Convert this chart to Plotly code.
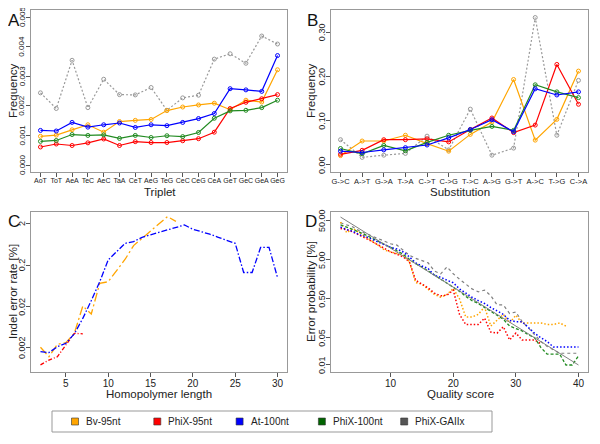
import math
import plotly.graph_objects as go

# Panel A: substitution frequency per triplet
triplets = ["AoT", "ToT", "AeA", "TeC", "AeC", "TaA", "CeT", "AeG",
            "TeG", "CeC", "CeG", "CeA", "GeT", "GeC", "GeA", "GeG"]
a_bv = [0.00097, 0.00101, 0.00119, 0.00136, 0.00111, 0.00147, 0.00151, 0.00154,
        0.00184, 0.00196, 0.00203, 0.00209, 0.00187, 0.00219, 0.00213, 0.00322]
a_phix95 = [0.00061, 0.00071, 0.00066, 0.00075, 0.00088, 0.00066, 0.00079, 0.00076,
            0.00076, 0.00082, 0.00089, 0.00111, 0.00191, 0.00212, 0.00224, 0.00238]
a_at100 = [0.00117, 0.00115, 0.00144, 0.00128, 0.00136, 0.00142, 0.00127, 0.00136,
           0.00133, 0.00144, 0.00157, 0.00174, 0.00258, 0.00254, 0.00249, 0.00370]
a_phix100 = [0.00080, 0.00083, 0.00103, 0.00100, 0.00102, 0.00090, 0.00100, 0.00093,
             0.00099, 0.00096, 0.00110, 0.00158, 0.00183, 0.00185, 0.00194, 0.00219]
a_gaiix = [0.00244, 0.00191, 0.00354, 0.00194, 0.00290, 0.00238, 0.00237, 0.00262,
           0.00185, 0.00227, 0.00236, 0.00358, 0.00376, 0.00344, 0.00436, 0.00409]
a_ticks = [0, 0.001, 0.002, 0.003, 0.004, 0.005]
a_ticktext = ["0.000", "0.001", "0.002", "0.003", "0.004", "0.005"]

# Panel B: substitution type frequency
subs = ["G->C", "A->T", "G->A", "T->A", "C->T", "C->G",
        "T->C", "A->G", "G->T", "A->C", "T->G", "C->A"]
b_bv = [0.021, 0.054, 0.054, 0.067, 0.048, 0.031, 0.069, 0.097, 0.193, 0.056, 0.103, 0.212]
b_phix95 = [0.024, 0.033, 0.057, 0.057, 0.059, 0.052, 0.080, 0.106, 0.073, 0.090, 0.227, 0.137]
b_at100 = [0.031, 0.028, 0.034, 0.039, 0.045, 0.061, 0.080, 0.102, 0.075, 0.172, 0.158, 0.165]
b_phix100 = [0.037, 0.025, 0.044, 0.032, 0.051, 0.067, 0.078, 0.087, 0.078, 0.181, 0.165, 0.152]
b_gaiix = [0.057, 0.017, 0.022, 0.026, 0.065, 0.034, 0.126, 0.022, 0.038, 0.333, 0.067, 0.191]
b_ticks = [0, 0.1, 0.2, 0.3]
b_ticktext = ["0.00", "0.10", "0.20", "0.30"]

# Panel C: indel error rate vs homopolymer length
c_len_at = list(range(2, 31))
c_at100 = [0.00163, 0.00155, 0.00215, 0.0026, 0.0044, 0.0104, 0.028, 0.080, 0.27, 0.43,
           0.68, 0.75, 0.95, 1.09, 1.24, 1.43, 1.63, 1.89, 1.49, 1.31,
           1.13, 0.95, 0.82, 0.68, 0.134, 0.134, 0.54, 0.54, 0.101]
c_len_bv = list(range(2, 19))
c_bv = [0.00208, 0.00123, 0.00245, 0.0027, 0.00453, 0.0207, 0.0133, 0.073, 0.080,
        0.154, 0.28, 0.6, 0.9, 1.35, 2.0, 3.0, 2.3]
c_len_phix = list(range(2, 8))
c_phix95 = [0.00078, 0.00102, 0.00123, 0.00237, 0.00453, 0.0044]
c_ticks = [0.002, 0.02, 0.2, 2]
c_ticktext = ["0.002", "0.02", "0.2", "2"]

# Panel D: error probability vs quality score
q_all = list(range(2, 41))
d_theory_q = [2, 40]
d_theory = [63.1, 0.01]
d_phix100 = [40, 35, 30, 26, 22, 18, 15, 12.5, 10.5, 8.5, 7, 5.2, 4.0, 3.3, 2.6, 2.0, 1.6,
             1.25, 1.0, 0.78, 0.58, 0.45, 0.38, 0.30, 0.24, 0.19, 0.15, 0.10, 0.085, 0.075,
             0.06, 0.05, 0.028, 0.019, 0.019, 0.019, 0.01, 0.01, 0.017]
d_at100 = [35, 30, 27, 22, 20, 17, 14.5, 12.5, 10.5, 9.5, 8, 6, 4.2, 3.5, 3.0, 2.0, 1.8,
           1.5, 1.3, 0.9, 0.7, 0.55, 0.45, 0.38, 0.3, 0.25, 0.2, 0.14, 0.13, 0.13,
           0.09, 0.065, 0.05, 0.04, 0.029, 0.029, 0.029, 0.029, 0.029]
q_phix95 = list(range(2, 35))
d_phix95 = [32, 30, 26, 22, 18, 15, 12, 10, 8, 7, 6, 4.5, 1.5, 1.2, 0.95, 0.7, 0.6,
            0.62, 0.84, 0.2, 0.11, 0.11, 0.11, 0.16, 0.07, 0.066, 0.096, 0.044, 0.066,
            0.044, 0.044, 0.044, 0.035]
q_bv = list(range(2, 39))
d_bv = [47, 25, 32, 25, 20, 15, 12, 9, 8, 7, 6.5, 4.5, 1.3, 1.2, 0.9, 0.65, 0.55,
        0.65, 0.92, 0.5, 0.17, 0.17, 0.2, 0.31, 0.1, 0.14, 0.2, 0.12, 0.19, 0.12,
        0.12, 0.12, 0.12, 0.11, 0.11, 0.12, 0.1]
d_gaiix = [45, 40, 35, 28, 24, 20, 17, 15, 13, 12, 9, 6.6, 5.5, 4.9, 4.2, 2.6, 2.2,
           3.3, 2.2, 1.6, 1.2, 0.9, 0.76, 0.84, 0.6, 0.35, 0.35, 0.21, 0.23, 0.13,
           0.09, 0.06, 0.04, 0.03, 0.025, 0.02, 0.02, 0.02, 0.02]
d_ticks = [0.01, 0.05, 0.5, 5, 50]
d_ticktext = ["0.01", "0.05", "0.50", "5.00", "50.00"]

names = ["Bv-95nt", "PhiX-95nt", "At-100nt", "PhiX-100nt", "PhiX-GAIIx"]
colors = ["#FFA500", "#FF0000", "#0000FF", "#228B22", "#999999"]
legend_colors = ["#FFA500", "#FF0000", "#0000FF", "#006400", "#555555"]

FONT = "Liberation Sans, Arial, sans-serif"
# the page body has an 8px margin, so the figure is placed at (8, 8) in the window
OFF = 8
W, H = 600 - OFF, 444 - OFF


def px(sx):
    return (sx - OFF) / W


def py(sy):
    return 1 - (sy - OFF) / H


def xd(a, b):
    return [px(a), px(b)]


def yd(top, bottom):
    return [py(bottom), py(top)]


fig = go.Figure()

# Panel A
xa = list(range(1, 17))
for ys, c, dash in [(a_gaiix, colors[4], "2px,2px"), (a_bv, colors[0], "solid"),
                    (a_phix95, colors[1], "solid"), (a_at100, colors[2], "solid"),
                    (a_phix100, colors[3], "solid")]:
    fig.add_trace(go.Scatter(x=xa, y=ys, mode="lines+markers", showlegend=False,
                             line=dict(color=c, width=1.2, dash=dash),
                             marker=dict(symbol="circle-open", size=4, color=c, line=dict(width=1)),
                             xaxis="x", yaxis="y"))

# Panel B
xb = list(range(1, 13))
for ys, c, dash in [(b_gaiix, colors[4], "2px,2px"), (b_bv, colors[0], "solid"),
                    (b_phix95, colors[1], "solid"), (b_phix100, colors[3], "solid"),
                    (b_at100, colors[2], "solid")]:
    fig.add_trace(go.Scatter(x=xb, y=ys, mode="lines+markers", showlegend=False,
                             line=dict(color=c, width=1.2, dash=dash),
                             marker=dict(symbol="circle-open", size=4, color=c, line=dict(width=1)),
                             xaxis="x2", yaxis="y2"))

# Panel C
for xs, ys, c, dash in [(c_len_phix, c_phix95, colors[1], "4px,2px,1px,2px"),
                        (c_len_bv, c_bv, colors[0], "9px,3px,2px,3px"),
                        (c_len_at, c_at100, colors[2], "6px,2px,1.5px,2px")]:
    fig.add_trace(go.Scatter(x=xs, y=ys, mode="lines", showlegend=False,
                             line=dict(color=c, width=1.3, dash=dash),
                             xaxis="x3", yaxis="y3"))

# Panel D
fig.add_trace(go.Scatter(x=q_all, y=d_gaiix, mode="lines", showlegend=False,
                         line=dict(color="#808080", width=1.2, dash="3px,3px"),
                         xaxis="x4", yaxis="y4"))
fig.add_trace(go.Scatter(x=q_bv, y=d_bv, mode="lines", showlegend=False,
                         line=dict(color=colors[0], width=1.5, dash="1.5px,2px"),
                         xaxis="x4", yaxis="y4"))
fig.add_trace(go.Scatter(x=q_phix95, y=d_phix95, mode="lines", showlegend=False,
                         line=dict(color=colors[1], width=1.5, dash="1.5px,2px"),
                         xaxis="x4", yaxis="y4"))
fig.add_trace(go.Scatter(x=q_all, y=d_phix100, mode="lines", showlegend=False,
                         line=dict(color=colors[3], width=1.3, dash="3px,2px"),
                         xaxis="x4", yaxis="y4"))
fig.add_trace(go.Scatter(x=q_all, y=d_at100, mode="lines", showlegend=False,
                         line=dict(color=colors[2], width=1.5, dash="1.5px,2px"),
                         xaxis="x4", yaxis="y4"))
fig.add_trace(go.Scatter(x=d_theory_q, y=d_theory, mode="lines", showlegend=False,
                         line=dict(color="#808080", width=1),
                         xaxis="x4", yaxis="y4"))

frame = dict(showline=True, linecolor="#999999", linewidth=1, mirror=True,
             ticks="outside", ticklen=4, tickcolor="#555555", showgrid=False,
             zeroline=False, automargin=False)
yframe = dict(frame, showticklabels=False)
xframe = dict(frame, tickangle=0, ticklabelstandoff=-2)
tfont = dict(family=FONT, size=11.5, color="#222222")

fig.update_layout(
    width=W, height=H, margin=dict(l=0, r=0, t=0, b=0),
    paper_bgcolor="white", plot_bgcolor="white",
    font=dict(family=FONT, color="#222222"), showlegend=False,
    xaxis=dict(domain=xd(31, 287), range=[0.4, 16.6], tickvals=xa, ticktext=triplets,
               tickfont=dict(size=7), anchor="y", **xframe),
    yaxis=dict(domain=yd(10, 172), range=[-0.000236, 0.00524], tickvals=a_ticks,
               anchor="x", **yframe),
    xaxis2=dict(domain=xd(331, 588), range=[0.56, 12.44], tickvals=xb, ticktext=subs,
                tickfont=dict(size=7.5), anchor="y2", **xframe),
    yaxis2=dict(domain=yd(10, 172), range=[-0.016, 0.35], tickvals=b_ticks,
                anchor="x2", **yframe),
    xaxis3=dict(domain=xd(31, 287), range=[0.88, 31.12], tickvals=[5, 10, 15, 20, 25, 30],
                tickfont=dict(size=10), anchor="y3", **xframe),
    yaxis3=dict(domain=yd(212, 372), type="log", range=[-3.28, 0.59], tickvals=c_ticks,
                anchor="x3", **yframe),
    xaxis4=dict(domain=xd(331, 588), range=[0.48, 41.52], tickvals=[10, 20, 30, 40],
                tickfont=dict(size=10), anchor="y4", **xframe),
    yaxis4=dict(domain=yd(212, 372), type="log", range=[-2.18, 1.93], tickvals=d_ticks,
                anchor="x4", **yframe),
)

# y tick labels, written along the axis and centred on their ticks
for yref, vals, texts, sx, size, is_log in [
        ("y", a_ticks, a_ticktext, 22, 8, False),
        ("y2", b_ticks, b_ticktext, 322, 9, False),
        ("y3", c_ticks, c_ticktext, 22, 9, True),
        ("y4", d_ticks, d_ticktext, 322, 9, True)]:
    for v, t in zip(vals, texts):
        fig.add_annotation(text=t, x=px(sx), y=math.log10(v) if is_log else v,
                           xref="paper", yref=yref, textangle=-90,
                           xanchor="center", yanchor="middle", showarrow=False,
                           font=dict(size=size, family=FONT, color="#222222"))

# axis titles
for txt, x, y in [("Triplet", 160, 192), ("Substitution", 460, 192),
                  ("Homopolymer length", 159, 394), ("Quality score", 460, 394)]:
    fig.add_annotation(text=txt, x=px(x), y=py(y), xref="paper", yref="paper",
                       xanchor="center", yanchor="middle", showarrow=False, font=tfont)
for txt, x, y in [("Frequency", 13, 91), ("Frequency", 311, 91),
                  ("Indel error rate [%]", 13, 292), ("Error probability [%]", 311, 292)]:
    fig.add_annotation(text=txt, x=px(x), y=py(y), xref="paper", yref="paper",
                       textangle=-90, xanchor="center", yanchor="middle",
                       showarrow=False, font=tfont)

# legend: frame, coloured squares and labels
fig.add_shape(type="rect", xref="paper", yref="paper",
              x0=px(52), x1=px(492), y0=py(432), y1=py(411),
              line=dict(color="#999999", width=1), fillcolor="rgba(0,0,0,0)")
for i, (n, c) in enumerate(zip(names, legend_colors)):
    cx = 75 + i * 82.3
    fig.add_shape(type="rect", xref="paper", yref="paper",
                  x0=px(cx - 3.5), x1=px(cx + 3.5), y0=py(425), y1=py(418),
                  line=dict(color="#333333", width=0.6), fillcolor=c)
    fig.add_annotation(text=n, x=px(cx + 9), y=py(421.5), xref="paper", yref="paper",
                       xanchor="left", yanchor="middle", showarrow=False,
                       font=dict(size=10, family=FONT, color="#222222"))

for txt, x, y in [("A", 14, 20), ("B", 312, 20), ("C", 14, 221), ("D", 311, 221)]:
    fig.add_annotation(text=txt, x=px(x), y=py(y), xref="paper", yref="paper",
                       xanchor="center", yanchor="middle",
                       showarrow=False, font=dict(size=17, family=FONT, color="#111111"))

fig.write_html("out.html")
